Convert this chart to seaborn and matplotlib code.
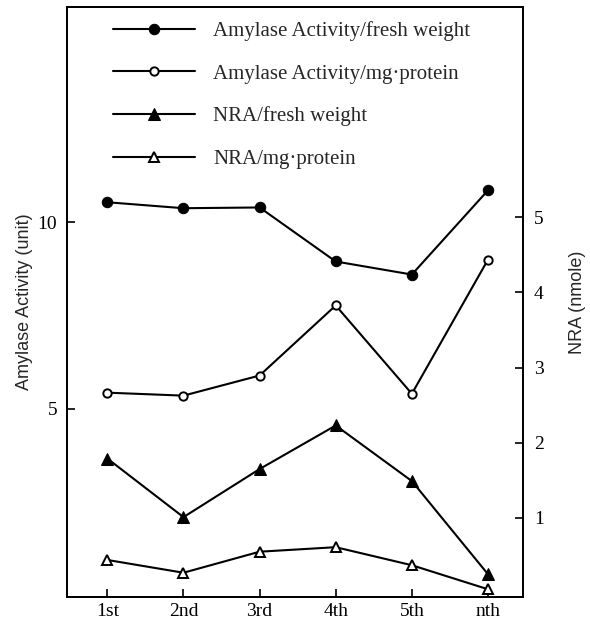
import matplotlib
matplotlib.use("Agg")
import matplotlib.pyplot as plt
import seaborn as sns
import pandas as pd

categories = ["1st", "2nd", "3rd", "4th", "5th", "nth"]
amylase_fresh = [10.54, 10.38, 10.40, 8.95, 8.60, 10.86]
amylase_protein = [5.43, 5.35, 5.89, 7.77, 5.40, 9.00]
nra_fresh = [1.79, 1.01, 1.65, 2.23, 1.49, 0.25]
nra_protein = [0.44, 0.27, 0.55, 0.61, 0.37, 0.05]

left_ticks = [5, 10]
right_ticks = [1, 2, 3, 4, 5]

sns.set_style("ticks")
plt.rcParams["font.family"] = ["Liberation Serif", "DejaVu Serif"]
plt.rcParams["axes.linewidth"] = 1.3

fig = plt.figure(figsize=(5.9, 6.21), dpi=100)
ax = fig.add_axes([67 / 590, 24 / 621, 456 / 590, 590 / 621])
ax2 = ax.twinx()

df = pd.DataFrame({
    "stage": categories,
    "af": amylase_fresh,
    "ap": amylase_protein,
    "nf": nra_fresh,
    "np": nra_protein,
})

sns.lineplot(data=df, x="stage", y="af", ax=ax, color="black", marker="o",
             markersize=7.5, markerfacecolor="black", markeredgecolor="black",
             linewidth=1.5, label="Amylase Activity/fresh weight", sort=False)
sns.lineplot(data=df, x="stage", y="ap", ax=ax, color="black", marker="o",
             markersize=6, markerfacecolor="white", markeredgecolor="black",
             markeredgewidth=1.4, linewidth=1.5,
             label="Amylase Activity/mg\u00b7protein", sort=False)
sns.lineplot(data=df, x="stage", y="nf", ax=ax2, color="black", marker="^",
             markersize=9, markerfacecolor="black", markeredgecolor="black",
             linewidth=1.5, label="NRA/fresh weight", sort=False)
sns.lineplot(data=df, x="stage", y="np", ax=ax2, color="black", marker="^",
             markersize=7, markerfacecolor="white", markeredgecolor="black",
             markeredgewidth=1.4, linewidth=1.5, label="NRA/mg\u00b7protein",
             sort=False)

ax.set_xlim(-0.53, 5.46)
ax.set_ylim(-0.054, 15.78)
ax2.set_ylim(-0.053, 7.8)
ax.set_yticks(left_ticks)
ax2.set_yticks(right_ticks)

ax.tick_params(axis="both", direction="in", length=6, width=1.2,
               labelsize=14, colors="black")
ax.tick_params(axis="y", pad=7)
ax.tick_params(axis="x", pad=4)
ax2.tick_params(axis="y", direction="in", length=6, width=1.2,
                labelsize=14, colors="black", pad=8)
ax.set_xlabel("")
ax.set_ylabel("Amylase Activity (unit)", fontsize=13, labelpad=3,
              family=["Liberation Sans", "DejaVu Sans"])
ax2.set_ylabel("NRA (nmole)", fontsize=13, labelpad=18,
               family=["Liberation Sans", "DejaVu Sans"])

for a in (ax, ax2):
    for s in a.spines.values():
        s.set_visible(True)
        s.set_color("black")
        s.set_linewidth(1.3)

h1, l1 = ax.get_legend_handles_labels()
h2, l2 = ax2.get_legend_handles_labels()
if ax.get_legend():
    ax.get_legend().remove()
if ax2.get_legend():
    ax2.get_legend().remove()
leg = ax2.legend(h1 + h2, l1 + l2, loc="upper left",
                 bbox_to_anchor=(0.1, 0.976), frameon=False, fontsize=15,
                 handlelength=3.95, handletextpad=0.87, labelspacing=1.1,
                 borderaxespad=0, borderpad=0)

fig.savefig("out.png", dpi=100)
